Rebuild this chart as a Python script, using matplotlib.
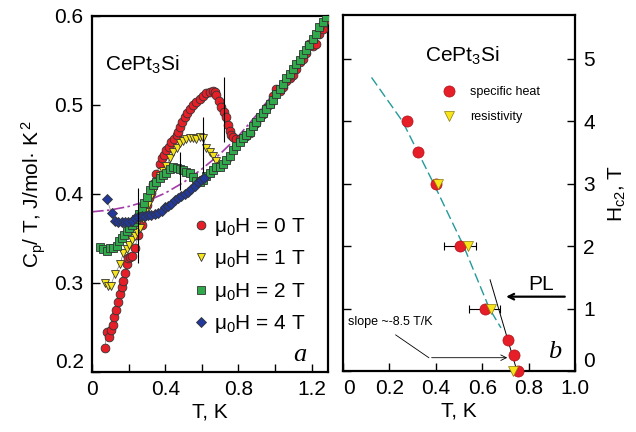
import numpy as np
import matplotlib
matplotlib.use('Agg')
import matplotlib.pyplot as plt
from matplotlib.lines import Line2D
from matplotlib.ticker import MultipleLocator

plt.rcParams['font.family'] = ['Liberation Sans', 'DejaVu Sans']
plt.rcParams['mathtext.fontset'] = 'custom'
plt.rcParams['mathtext.rm'] = 'Liberation Sans'
plt.rcParams['mathtext.it'] = 'Liberation Sans:italic'
plt.rcParams['mathtext.bf'] = 'Liberation Sans:bold'

# ---- panel a: Cp/T vs T in several fields ----
T_0T = [0.071, 0.080, 0.093, 0.102, 0.113, 0.122, 0.131, 0.143, 0.153, 0.162,
        0.171, 0.180, 0.189, 0.198, 0.207, 0.216, 0.234, 0.252, 0.271, 0.280,
        0.298, 0.312, 0.325, 0.334, 0.352, 0.371, 0.380, 0.394, 0.407, 0.421,
        0.434, 0.448, 0.462, 0.471, 0.480, 0.494, 0.507, 0.520, 0.534, 0.552,
        0.570, 0.589, 0.607, 0.625, 0.643, 0.661, 0.670, 0.679, 0.693, 0.707,
        0.720, 0.734, 0.743, 0.752, 0.761, 0.770, 0.789, 0.807, 0.825, 0.843,
        0.861, 0.879, 0.897, 0.916, 0.934, 0.952, 0.970, 0.989, 1.006, 1.025,
        1.043, 1.061, 1.080, 1.098, 1.116, 1.134, 1.152, 1.170, 1.188, 1.207,
        1.225, 1.243, 1.261, 1.279]
C_0T = [0.227, 0.245, 0.239, 0.247, 0.253, 0.262, 0.270, 0.279, 0.288, 0.295,
        0.302, 0.311, 0.321, 0.328, 0.329, 0.330, 0.339, 0.354, 0.365, 0.377,
        0.388, 0.395, 0.401, 0.411, 0.422, 0.434, 0.440, 0.444, 0.449, 0.453,
        0.458, 0.462, 0.466, 0.470, 0.475, 0.481, 0.486, 0.491, 0.496, 0.500,
        0.503, 0.507, 0.510, 0.513, 0.515, 0.516, 0.515, 0.511, 0.505, 0.498,
        0.492, 0.486, 0.478, 0.471, 0.466, 0.464, 0.462, 0.462, 0.463, 0.465,
        0.469, 0.476, 0.480, 0.487, 0.490, 0.497, 0.501, 0.510, 0.518, 0.516,
        0.520, 0.527, 0.530, 0.534, 0.540, 0.548, 0.552, 0.558, 0.569, 0.566,
        0.568, 0.580, 0.585, 0.596]

T_1T = [0.071, 0.085, 0.102, 0.125, 0.153, 0.171, 0.189, 0.203, 0.220, 0.234,
        0.248, 0.262, 0.280, 0.294, 0.307, 0.325, 0.343, 0.361, 0.371, 0.389,
        0.407, 0.425, 0.443, 0.462, 0.480, 0.498, 0.516, 0.534, 0.552, 0.570,
        0.589, 0.607, 0.625, 0.643, 0.661, 0.680, 0.698, 0.716, 0.734, 0.752,
        0.789, 0.825, 0.861, 0.897, 0.934, 0.970, 1.006, 1.043, 1.080, 1.116,
        1.152, 1.188, 1.225, 1.261]
C_1T = [0.300, 0.297, 0.297, 0.310, 0.321, 0.334, 0.338, 0.343, 0.348, 0.353,
        0.357, 0.362, 0.372, 0.380, 0.388, 0.398, 0.407, 0.415, 0.420, 0.426,
        0.432, 0.440, 0.447, 0.452, 0.457, 0.460, 0.462, 0.463, 0.463, 0.462,
        0.464, 0.463, 0.452, 0.447, 0.443, 0.437, 0.432, 0.431, 0.436, 0.440,
        0.451, 0.460, 0.468, 0.478, 0.488, 0.499, 0.510, 0.521, 0.532, 0.543,
        0.554, 0.565, 0.578, 0.590]

T_2T = [0.044, 0.062, 0.080, 0.098, 0.116, 0.134, 0.149, 0.162, 0.176, 0.189,
        0.203, 0.216, 0.230, 0.243, 0.257, 0.271, 0.285, 0.298, 0.316, 0.334,
        0.352, 0.371, 0.389, 0.407, 0.425, 0.443, 0.462, 0.480, 0.498, 0.516,
        0.534, 0.552, 0.570, 0.589, 0.607, 0.625, 0.643, 0.661, 0.680, 0.697,
        0.716, 0.734, 0.752, 0.770, 0.789, 0.807, 0.825, 0.843, 0.861, 0.879,
        0.897, 0.916, 0.934, 0.952, 0.970, 0.989, 1.006, 1.025, 1.043, 1.061,
        1.080, 1.098, 1.116, 1.134, 1.152, 1.170, 1.188, 1.207, 1.225, 1.243,
        1.261, 1.279]
C_2T = [0.341, 0.338, 0.336, 0.339, 0.339, 0.342, 0.347, 0.350, 0.354, 0.358,
        0.362, 0.365, 0.368, 0.372, 0.378, 0.384, 0.390, 0.397, 0.404, 0.410,
        0.414, 0.418, 0.421, 0.424, 0.428, 0.430, 0.429, 0.428, 0.427, 0.425,
        0.424, 0.419, 0.415, 0.414, 0.416, 0.420, 0.424, 0.427, 0.430, 0.430,
        0.434, 0.438, 0.443, 0.449, 0.454, 0.458, 0.463, 0.466, 0.470, 0.476,
        0.481, 0.486, 0.491, 0.496, 0.501, 0.506, 0.512, 0.518, 0.524, 0.530,
        0.535, 0.540, 0.546, 0.551, 0.557, 0.562, 0.567, 0.574, 0.580, 0.588,
        0.593, 0.599]

T_4T = [0.080, 0.107, 0.125, 0.143, 0.162, 0.180, 0.198, 0.216, 0.234, 0.252,
        0.271, 0.289, 0.307, 0.325, 0.343, 0.361, 0.380, 0.398, 0.416, 0.434,
        0.452, 0.471, 0.489, 0.507, 0.525, 0.543, 0.561, 0.580, 0.598, 0.612]
C_4T = [0.394, 0.379, 0.370, 0.368, 0.368, 0.369, 0.369, 0.370, 0.373, 0.374,
        0.375, 0.375, 0.376, 0.376, 0.377, 0.379, 0.381, 0.385, 0.387, 0.389,
        0.393, 0.395, 0.398, 0.400, 0.402, 0.406, 0.409, 0.413, 0.416, 0.418]

# normal-state curve (dash-dot)
T_normal = [0.0, 0.1, 0.2, 0.3, 0.4, 0.5, 0.6, 0.7, 0.8, 0.9, 1.0, 1.1, 1.2, 1.28]
C_normal = [0.380, 0.382, 0.386, 0.392, 0.401, 0.413, 0.428, 0.445, 0.465,
            0.489, 0.515, 0.543, 0.573, 0.598]

# entropy-balance construction lines
T_equal = [0.252, 0.480, 0.607, 0.721]
C_equal_lo = [0.322, 0.404, 0.424, 0.458]
C_equal_hi = [0.407, 0.447, 0.486, 0.532]

field_labels = [r'μ$_0$H = 0 T', r'μ$_0$H = 1 T', r'μ$_0$H = 2 T', r'μ$_0$H = 4 T']

# ---- panel b: Hc2(T) ----
T_heat = [0.274, 0.323, 0.400, 0.505, 0.610, 0.710, 0.738, 0.755]
H_heat = [4.0, 3.5, 3.0, 2.0, 1.0, 0.5, 0.25, 0.0]
Terr_heat = [0.0, 0.0, 0.0, 0.068, 0.068, 0.0, 0.0, 0.0]
T_res = [0.41, 0.538, 0.638, 0.731]
H_res = [3.0, 2.0, 1.0, 0.0]

T_guide = [0.123, 0.256, 0.391, 0.520, 0.631, 0.681]
H_guide = [4.70, 4.0, 3.0, 2.0, 1.0, 0.69]

T_slope = [0.634, 0.750]
H_slope = [1.46, 0.0]

RED = '#e61e28'
YELLOW = '#f7e41a'
GREEN = '#2fa94b'
BLUE = '#22389a'
EDGE = '0.2'

fig = plt.figure(figsize=(6.36, 4.32), dpi=100)
ax1 = fig.add_axes([0.1447, 0.1389, 0.3711, 0.8241])
ax2 = fig.add_axes([0.5393, 0.1412, 0.3648, 0.8241])

link = dict(ls='-', lw=0.5, color='0.5', zorder=1)
ax1.plot(T_0T, C_0T, **link)
ax1.plot(T_1T, C_1T, **link)
ax1.plot(T_2T, C_2T, **link)
ax1.plot(T_4T, C_4T, **link)

ax1.plot(T_normal, C_normal, color='#a33aa8', lw=1.2, dashes=(7, 2, 1.5, 2), zorder=2)

mk = dict(ls='none', mec=EDGE, mew=0.6)
ax1.plot(T_0T, C_0T, marker='o', ms=6.3, mfc=RED, zorder=3, **mk)
ax1.plot(T_1T, C_1T, marker='v', ms=6, mfc=YELLOW, zorder=4, **mk)
ax1.plot(T_2T, C_2T, marker='s', ms=5.5, mfc=GREEN, zorder=5, **mk)
ax1.plot(T_4T, C_4T, marker='D', ms=5, mfc=BLUE, zorder=6, **mk)

ax1.vlines(T_equal, C_equal_lo, C_equal_hi, color='k', lw=0.8, zorder=7)

ax1.set_xlim(0, 1.29)
ax1.set_ylim(0.2, 0.6)
ax1.xaxis.set_minor_locator(MultipleLocator(0.2))
ax1.set_xticks([0, 0.4, 0.8, 1.2])
ax1.set_xticklabels(['0', '0.4', '0.8', '1.2'])
ax1.set_yticks([0.2, 0.3, 0.4, 0.5, 0.6])
ax1.set_yticklabels(['0.2', '0.3', '0.4', '0.5', '0.6'])
ax1.tick_params(which='both', direction='in', length=6, width=1, labelsize=15, pad=6)
ax1.get_yticklabels()[0].set_va('bottom')
ax1.set_xlabel('T, K', fontsize=15, labelpad=2)
ax1.set_ylabel('C$_{\\rm p}$/ T, J/mol· K$^{\\,2}$', fontsize=15, labelpad=5)

ax1.text(0.071, 0.545, 'CePt$_3$Si', fontsize=15, ha='left', va='center')
ax1.text(1.134, 0.219, 'a', fontsize=19, family='Liberation Serif', style='italic',
         ha='center', va='center')

handles = [
    Line2D([], [], marker='o', ms=6.3, mfc=RED, **mk),
    Line2D([], [], marker='v', ms=6, mfc=YELLOW, **mk),
    Line2D([], [], marker='s', ms=5.5, mfc=GREEN, **mk),
    Line2D([], [], marker='D', ms=5, mfc=BLUE, **mk),
]
ax1.legend(handles, field_labels, loc='upper left', bbox_to_anchor=(0.43, 0.438),
           frameon=False, fontsize=15, handlelength=0.7, handletextpad=0.3,
           labelspacing=0.5, borderpad=0, borderaxespad=0)

for sp in ax1.spines.values():
    sp.set_linewidth(1.6)

# panel b
ax2.plot(T_guide, H_guide, color='#239a9a', lw=1.0, dashes=(7, 3), zorder=2)
ax2.plot(T_slope, H_slope, color='k', lw=0.7, zorder=2)
ax2.errorbar(T_heat, H_heat, xerr=Terr_heat, fmt='none', ecolor='k', elinewidth=0.8,
             capsize=3, capthick=0.8, zorder=3)
ax2.plot(T_heat, H_heat, ls='none', marker='o', ms=8, mfc=RED, mec='#b0101a', mew=0.5,
         zorder=4, clip_on=False)
ax2.plot(T_res, H_res, ls='none', marker='v', ms=7.5, mfc=YELLOW, mec='#8a7a10', mew=0.5,
         zorder=5, clip_on=False)

ax2.set_xlim(0, 1.0)
ax2.set_ylim(0, 5.7)
ax2.set_xticks([0, 0.2, 0.4, 0.6, 0.8, 1.0])
ax2.set_xticklabels(['0', '0.2', '0.4', '0.6', '0.8', '1.0'])
ax2.set_yticks([0, 1, 2, 3, 4, 5])
ax2.tick_params(which='both', direction='in', length=6, width=1, labelsize=15, pad=6,
                left=True, right=True, labelleft=False, labelright=True)
ax2.get_xticklabels()[0].set_ha('left')
ax2.get_yticklabels()[0].set_va('bottom')
ax2.yaxis.set_label_position('right')
ax2.set_xlabel('T, K', fontsize=15, labelpad=2)
ax2.set_ylabel('H$_{\\rm c2}$, T', fontsize=15, labelpad=8)

ax2.text(0.355, 5.04, 'CePt$_3$Si', fontsize=15, ha='left', va='center')
ax2.text(0.912, 0.31, 'b', fontsize=19, family='Liberation Serif', style='italic',
         ha='center', va='center')

ax2.annotate('', xy=(0.691, 1.19), xytext=(0.968, 1.19),
             arrowprops=dict(arrowstyle='->', lw=1.6, color='k'))
ax2.text(0.855, 1.38, 'PL', fontsize=15, ha='center', va='center')

ax2.text(0.02, 0.78, 'slope ~-8.5 T/K', fontsize=9, ha='left', va='center')
ax2.plot([0.227, 0.37], [0.578, 0.213], color='k', lw=0.6)
ax2.annotate('', xy=(0.72, 0.213), xytext=(0.37, 0.213),
             arrowprops=dict(arrowstyle='->', lw=0.6, color='k'))

leg_handles = [
    Line2D([], [], ls='none', marker='o', ms=8, mfc=RED, mec='#b0101a', mew=0.5),
    Line2D([], [], ls='none', marker='v', ms=7.5, mfc=YELLOW, mec='#8a7a10', mew=0.5),
]
ax2.legend(leg_handles, ['specific heat', 'resistivity'], loc='upper left',
           bbox_to_anchor=(0.43, 0.80), frameon=False, fontsize=9,
           handlelength=1.0, handletextpad=1.2, labelspacing=1.05,
           borderpad=0, borderaxespad=0)

for sp in ax2.spines.values():
    sp.set_linewidth(1.6)

fig.savefig('out.png', dpi=100)
